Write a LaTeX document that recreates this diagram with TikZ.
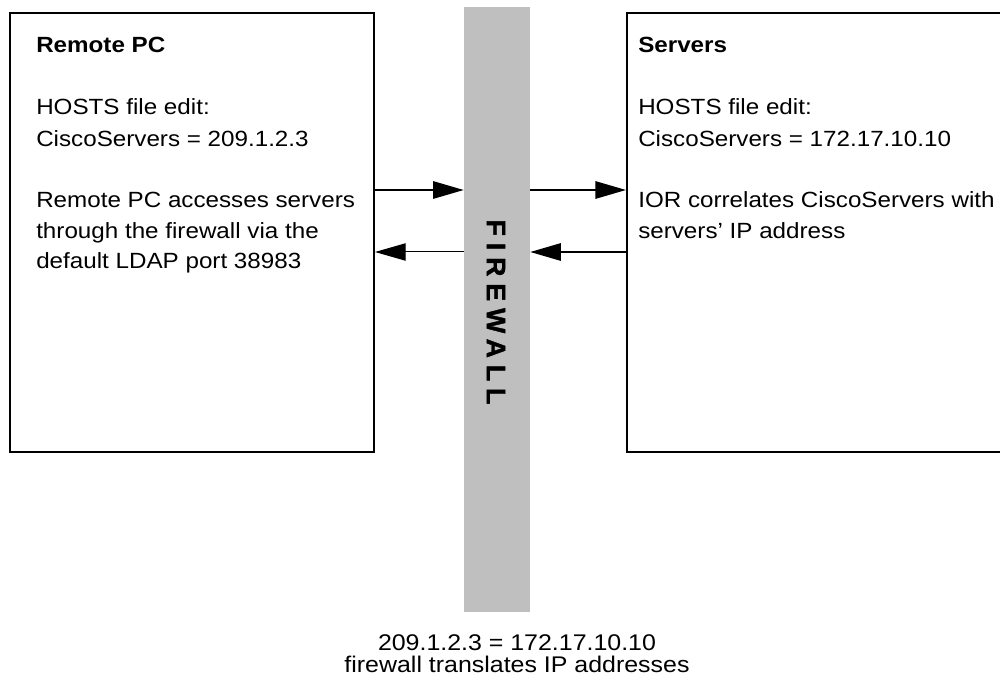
\documentclass[tikz,border=0pt]{standalone}
\usepackage{fontspec}
\setmainfont{Liberation Sans}[FakeStretch=1.1]
\newfontfamily\wallfont{Liberation Sans}[LetterSpace=26,FakeBold=1.5]
\usetikzlibrary{arrows.meta}
\begin{document}
\begin{tikzpicture}[x=0.75pt,y=-0.75pt,
  box/.style={draw=black,line width=1.5pt,rectangle,inner sep=0pt},
  wall/.style={fill=black!25,draw=none,rectangle,inner sep=0pt,minimum width=49.5pt,minimum height=453.75pt},
  txt/.style={anchor=base west,inner sep=0pt,font=\fontsize{16.5}{20}\selectfont},
  head/.style={txt,font=\fontsize{16.5}{20}\selectfont\bfseries},
  note/.style={anchor=base,inner sep=0pt,font=\fontsize{17}{20}\selectfont},
  arr/.style={line width=1.5pt,-{Triangle[length=23pt,width=13pt]}},
  thinarr/.style={line width=0.75pt,-{Triangle[length=23pt,width=13pt]}}]
\useasboundingbox (0,0) rectangle (1000,681);

% the two hosts
\node[box,minimum width=273pt,minimum height=329.25pt] (remote) at (192,232.5) {};
\node[box,minimum width=287.25pt,minimum height=329.25pt] (servers) at (818.5,232.5) {};

% the firewall in between
\node[wall] (fw) at (497,309.5) {};
\node[rotate=-90,inner sep=0pt,font=\wallfont\fontsize{20}{24}\selectfont\bfseries] (fwlabel) at (496,312) {FIREWALL};

% text of the remote PC
\node[head] (rtitle) at (36,53) {Remote PC};
\node[txt] (rhosts) at (36,115) {HOSTS file edit:};
\node[txt] (rmap) at (36,146.5) {CiscoServers = 209.1.2.3};
\node[txt] (racc1) at (36,208) {Remote PC accesses servers};
\node[txt] (racc2) at (36,238.5) {through the firewall via the};
\node[txt] (racc3) at (36,268.5) {default LDAP port 38983};

% text of the servers
\node[head] (stitle) at (638,53) {Servers};
\node[txt] (shosts) at (638,115) {HOSTS file edit:};
\node[txt] (smap) at (638,146.5) {CiscoServers = 172.17.10.10};
\node[txt] (sior1) at (638,208) {IOR correlates CiscoServers with};
\node[txt] (sior2) at (638,238.5) {servers' IP address};

% address translation note
\node[note] (nat1) at (517,650) {209.1.2.3 = 172.17.10.10};
\node[note] (nat2) at (517,672) {firewall translates IP addresses};

% traffic through the firewall
\coordinate (out) at (0,190);
\coordinate (back) at (0,252);
\draw[arr] (remote.east |- out) -- (fw.west |- out);
\draw[arr] (fw.east |- out) -- (servers.west |- out);
\draw[arr] (servers.west |- back) -- (fw.east |- back);
\draw[thinarr] (fw.west |- back) -- (remote.east |- back);
\end{tikzpicture}
\end{document}
